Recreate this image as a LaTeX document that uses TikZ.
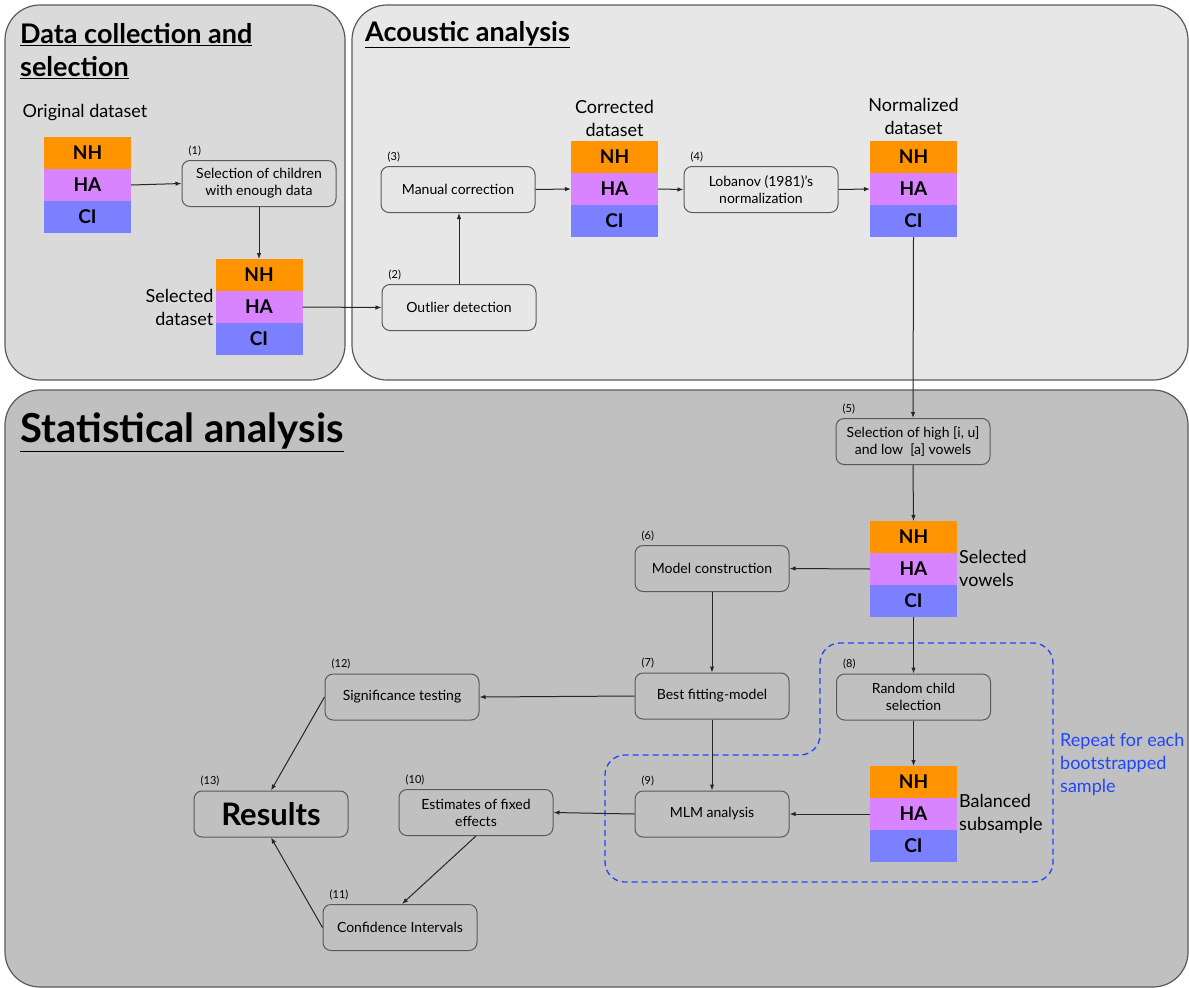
\documentclass[tikz,border=0pt]{standalone}
\usepackage{fontspec}
\setmainfont{Lato}
\usetikzlibrary{arrows.meta}
\definecolor{nhc}{RGB}{255,147,0}
\definecolor{hac}{RGB}{216,131,255}
\definecolor{cic}{RGB}{122,128,255}
\definecolor{pA}{RGB}{218,218,218}
\definecolor{pB}{RGB}{231,231,231}
\definecolor{pC}{RGB}{192,192,192}
\definecolor{edge}{RGB}{90,90,90}
\definecolor{rep}{RGB}{30,70,255}
\newcommand{\mystack}[3]{%
  \node[band, fill=nhc, anchor=north] (#1nh) at (#2,#3) {NH};
  \node[band, fill=hac, anchor=north] (#1ha) at (#1nh.south) {HA};
  \node[band, fill=cic, anchor=north] (#1ci) at (#1ha.south) {CI};
}
\begin{document}
\begin{tikzpicture}[x=1pt,y=-1pt,
  panel/.style={draw=edge, line width=1.2pt, rounded corners=35pt},
  box/.style={draw=edge, line width=1pt, rounded corners=8pt, minimum width=154pt, minimum height=46pt, align=center, font=\fontsize{14}{17}\selectfont, inner sep=2pt},
  band/.style={minimum width=87pt, minimum height=32pt, inner sep=0pt, outer sep=0pt, font=\fontsize{19}{19}\selectfont\bfseries},
  steplbl/.style={font=\fontsize{11}{11}\selectfont, inner sep=1pt, anchor=south west},
  lbl/.style={font=\fontsize{18}{23}\selectfont, inner sep=2pt},
  title/.style={font=\fontsize{27}{33}\selectfont\bfseries, anchor=north west, align=left, inner sep=0pt},
  arr/.style={-{Latex[length=6pt,width=4.5pt]}, line width=1pt, draw=black!85},
]
\useasboundingbox (0,0) rectangle (1189,988);
\fill[white] (0,0) rectangle (1189,988);
% panels
\draw[panel, fill=pA] (5,5) rectangle (345,380);
\draw[panel, fill=pB] (352,5) rectangle (1188,380);
\draw[panel, fill=pC] (5,390) rectangle (1188,987);
% titles
\node[title] (t1) at (20,23) {\underline{Data collection and}\\\underline{selection}};
\node[title] (t2) at (365,21) {\underline{Acoustic analysis}};
\node[title, font=\fontsize{40}{44}\selectfont\bfseries] (t3) at (20,413) {\underline{Statistical analysis}};
% dashed repeat region
\draw[rep, line width=1.3pt, dash pattern=on 6pt off 4pt, rounded corners=20pt]
  (930,643) -- (1053,643) -- (1053,882) -- (605,882) -- (605,755) -- (820,755) -- (820,643) -- cycle;
\node[font=\fontsize{18}{23}\selectfont, text=rep, align=left, anchor=west, inner sep=0pt] (rep) at (1060,764) {Repeat for each\\bootstrapped\\sample};
% stacks
\mystack{orig}{87.5}{137}
\mystack{sel}{259}{259}
\mystack{corr}{614.5}{141}
\mystack{norm}{913.5}{141}
\mystack{selv}{913.5}{521}
\mystack{bal}{913.5}{766}
% stack labels
\node[lbl] (lorig) at (85,113) {Original dataset};
\node[lbl, anchor=east, align=right] (lsel) at (selha.west) {Selected\\dataset};
\node[lbl, anchor=south, align=center] (lcorr) at ([yshift=2pt]corrnh.north) {Corrected\\dataset};
\node[lbl, anchor=south, align=center] (lnorm) at ([yshift=4pt]normnh.north) {Normalized\\dataset};
\node[lbl, anchor=west, align=left] (lselv) at ([yshift=1pt]selvha.east) {Selected\\vowels};
\node[lbl, anchor=west, align=left] (lbal) at (balha.east) {Balanced\\subsample};
% boxes
\node[box] (b1) at (259,183.5) {Selection of children\\with enough data};
\node[box] (b2) at (459,307.5) {Outlier detection};
\node[box] (b3) at (458,189.5) {Manual correction};
\node[box] (b4) at (761,189.5) {Lobanov (1981)’s\\normalization};
\node[box] (b5) at (913,441.5) {Selection of high [i, u]\\and low \ [a] vowels};
\node[box] (b6) at (712,568.5) {Model construction};
\node[box] (b7) at (712,696) {Best fitting-model};
\node[box] (b8) at (913.5,697) {Random child\\selection};
\node[box] (b9) at (712,814) {MLM analysis};
\node[box] (b10) at (476,812.5) {Estimates of fixed\\effects};
\node[box] (b11) at (400,927.5) {Confidence Intervals};
\node[box] (b12) at (402,697) {Significance testing};
\node[box, font=\fontsize{31}{34}\selectfont\bfseries] (b13) at (271,814) {Results};
% step labels
\foreach \b/\t in {b1/(1),b2/(2),b3/(3),b4/(4),b5/(5),b6/(6),b7/(7),b8/(8),b9/(9),b10/(10),b11/(11),b12/(12),b13/(13)}
  \node[steplbl] (s\b) at ([xshift=6pt,yshift=3pt]\b.north west) {\t};
% connectors
\draw[arr] (origha.east) -- (b1.west);
\draw[arr] (b1.south) -- (b1.south |- selnh.north);
\draw[arr] (selha.east) -- (b2.west);
\draw[arr] (b2.north) -- (b2.north |- b3.south);
\draw[arr] (b3.east) -- (corrha.west);
\draw[arr] (corrha.east) -- (b4.west);
\draw[arr] (b4.east) -- (normha.west);
\draw[arr] (normci.south) -- (b5.north);
\draw[arr] (b5.south) -- (selvnh.north);
\draw[arr] (selvha.west) -- (b6.east);
\draw[arr] (b6.south) -- (b7.north);
\draw[arr] (selvci.south) -- (b8.north);
\draw[arr] (b8.south) -- (balnh.north);
\draw[arr] (balha.west) -- (b9.east);
\draw[arr] (b7.south) -- (b9.north);
\draw[arr] (b7.west) -- (b12.east);
\draw[arr] (b9.west) -- (b10.east);
\draw[arr] (b10.south) -- ([xshift=2pt]b11.north);
\draw[arr] (b12.west) -- (b13.north);
\draw[arr] (b11.west) -- (b13.south);
\end{tikzpicture}
\end{document}
